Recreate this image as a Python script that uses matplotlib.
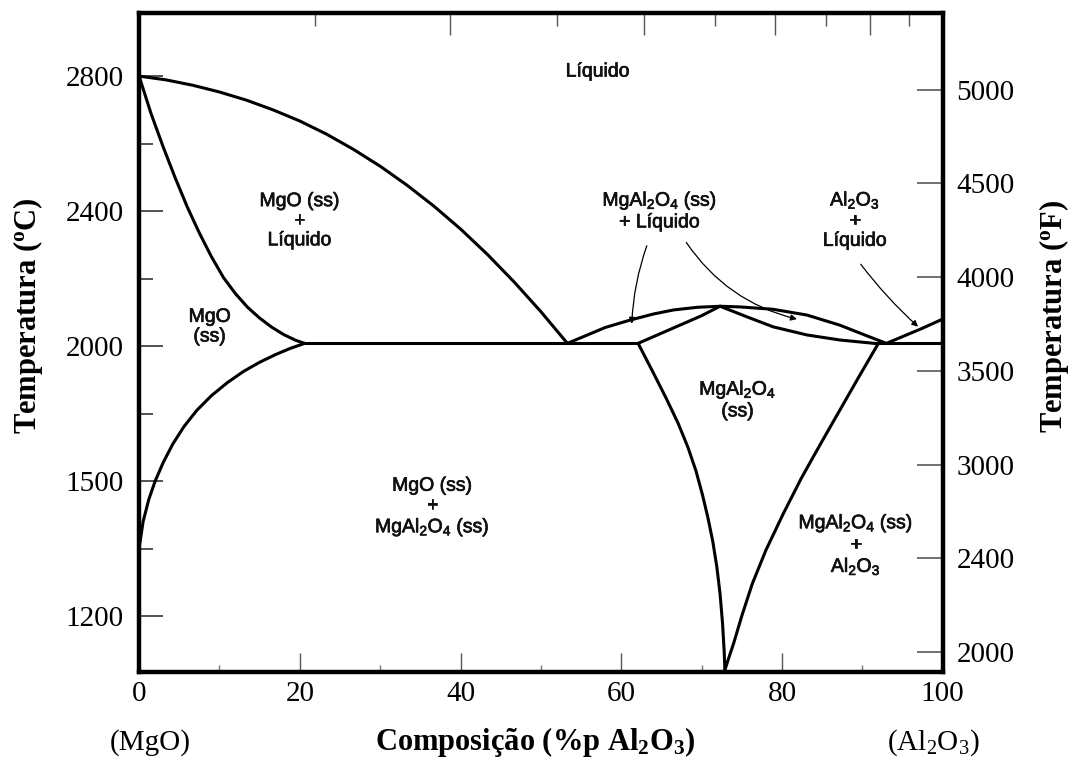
import numpy as np
import matplotlib
matplotlib.use("Agg")
import matplotlib.pyplot as plt
import matplotlib.patheffects as pe
from matplotlib.patches import FancyArrowPatch

plt.rcParams["font.family"] = ["Liberation Serif", "DejaVu Serif"]
plt.rcParams["mathtext.default"] = "regular"

# ---- phase boundaries: composition (wt% Al2O3) vs temperature (deg C) ----
# MgO liquidus
liq_mgo_x = [0.0, 3.33, 6.67, 10.0, 13.33, 16.67, 20.0, 23.33, 26.67, 30.0, 33.33, 36.67, 40.0, 43.33, 46.67, 50.0, 53.3]
liq_mgo_t = [2800, 2789, 2773, 2753, 2729, 2700, 2667, 2628, 2583, 2533, 2477, 2415, 2347, 2272, 2190, 2102, 2008]
# MgO solidus
sol_mgo_x = [0.0, 1.5, 3.0, 4.5, 6.0, 7.5, 9.0, 10.5, 12.0, 13.5, 15.0, 16.5, 18.0, 19.5, 20.6]
sol_mgo_t = [2800, 2688, 2590, 2498, 2412, 2335, 2265, 2203, 2155, 2115, 2083, 2056, 2034, 2017, 2008]
# MgO solvus
slv_mgo_x = [0.0, 0.5, 1.2, 2.0, 3.0, 4.2, 5.6, 7.2, 9.0, 11.0, 13.0, 15.0, 17.0, 18.8, 20.6]
slv_mgo_t = [1401, 1480, 1545, 1600, 1655, 1710, 1762, 1810, 1853, 1892, 1925, 1952, 1975, 1993, 2008]
# invariant (eutectic) lines
eut_left_x = [20.6, 62.1]
eut_right_x = [91.5, 100.0]
eut_t = [2008, 2008]
# MgAl2O4 liquidus (congruent maximum)
liq_sp_x = [53.3, 55.5, 58.0, 61.1, 64.0, 66.5, 69.5, 72.3, 74.8, 78.9, 83.1, 87.2, 90.5, 93.0]
liq_sp_t = [2008, 2030, 2055, 2077, 2095, 2107, 2115, 2118, 2116, 2109, 2092, 2062, 2031, 2008]
# MgAl2O4 solidus
sol_sp_x = [62.1, 64.7, 67.3, 70.0, 72.3, 75.6, 78.9, 83.1, 87.2, 91.5]
sol_sp_t = [2008, 2035, 2062, 2090, 2118, 2087, 2057, 2033, 2018, 2008]
# Al2O3 liquidus
liq_al_x = [93.0, 95.2, 97.4, 100.0]
liq_al_t = [2008, 2030, 2052, 2080]
# MgAl2O4 solvus, MgO-rich side
slv_sp_l_x = [62.1, 63.9, 65.6, 67.1, 68.3, 69.3, 70.1, 70.8, 71.4, 71.9, 72.3, 72.6, 72.8, 72.9]
slv_sp_l_t = [2008, 1925, 1845, 1770, 1700, 1630, 1560, 1490, 1420, 1345, 1265, 1180, 1100, 1040]
# MgAl2O4 solvus, Al2O3-rich side
slv_sp_r_x = [92.0, 89.6, 87.2, 84.8, 82.4, 80.1, 78.0, 76.3, 75.0, 74.0, 73.3, 72.9]
slv_sp_r_t = [2008, 1910, 1810, 1710, 1608, 1500, 1395, 1295, 1200, 1120, 1070, 1040]

# ---- axis ticks ----
x_ticks = [0, 20, 40, 60, 80, 100]
x_minor = [10, 30, 50, 70, 90]
c_ticks = [1200, 1600, 2000, 2400, 2800]
c_labels = ["1200", "1500", "2000", "2400", "2800"]
c_minor = [1400, 1800, 2200, 2600]
f_ticks = [2000, 2500, 3000, 3500, 4000, 4500, 5000]
f_labels = ["2000", "2400", "3000", "3500", "4000", "4500", "5000"]
mol_major = [20, 40, 60, 80]
mol_minor = [10, 30, 50, 70, 90]

M_AL2O3 = 101.96
M_MGO = 40.30


def wt_to_mol(w):
    w = np.asarray(w, dtype=float)
    a = w / M_AL2O3
    b = (100.0 - w) / M_MGO
    with np.errstate(divide="ignore", invalid="ignore"):
        return 100.0 * a / (a + b)


def mol_to_wt(m):
    m = np.asarray(m, dtype=float)
    a = m * M_AL2O3
    b = (100.0 - m) * M_MGO
    with np.errstate(divide="ignore", invalid="ignore"):
        return 100.0 * a / (a + b)


def c_to_f(c):
    return np.asarray(c, dtype=float) * 1.8 + 32.0


def f_to_c(f):
    return (np.asarray(f, dtype=float) - 32.0) / 1.8


fig = plt.figure(figsize=(10.7, 7.6), dpi=100)
ax = fig.add_axes([0.130, 0.1162, 0.751, 0.8671])
ax.set_xlim(0, 100)
ax.set_ylim(1035, 2988)

line_kw = dict(color="black", lw=2.2, solid_capstyle="round", solid_joinstyle="round")
for xs, ts in [
    (liq_mgo_x, liq_mgo_t),
    (sol_mgo_x, sol_mgo_t),
    (slv_mgo_x, slv_mgo_t),
    (eut_left_x, eut_t),
    (eut_right_x, eut_t),
    (liq_sp_x, liq_sp_t),
    (sol_sp_x, sol_sp_t),
    (liq_al_x, liq_al_t),
    (slv_sp_l_x, slv_sp_l_t),
    (slv_sp_r_x, slv_sp_r_t),
]:
    ax.plot(xs, ts, **line_kw)

# ---- spines and ticks ----
for s in ax.spines.values():
    s.set_linewidth(3.2)
    s.set_color("black")

ax.set_xticks(x_ticks)
ax.set_xticks(x_minor, minor=True)
ax.set_yticks(c_ticks, labels=c_labels)
ax.set_yticks(c_minor, minor=True)
ax.tick_params(axis="x", which="major", direction="in", length=14, width=1.0,
               color="#555555", labelsize=21, pad=7, top=False)
ax.tick_params(axis="x", which="minor", direction="in", length=5, width=1.0,
               color="#777777", top=False)
ax.tick_params(axis="y", which="major", direction="in", length=17, width=1.3,
               color="#444444", labelsize=21, pad=11, right=False)
ax.tick_params(axis="y", which="minor", direction="in", length=10, width=1.3,
               color="#444444", right=False)

top = ax.secondary_xaxis("top", functions=(wt_to_mol, mol_to_wt))
top.set_xticks(mol_major, labels=[""] * len(mol_major))
top.set_xticks(mol_minor, labels=[""] * len(mol_minor), minor=True)
top.tick_params(which="major", direction="in", length=16, width=1.0, color="#555555")
top.tick_params(which="minor", direction="in", length=9, width=1.0, color="#555555")
top.spines["top"].set_visible(False)

right = ax.secondary_yaxis("right", functions=(c_to_f, f_to_c))
right.set_yticks(f_ticks, labels=f_labels)
right.tick_params(direction="in", length=19, width=1.3, color="#666666",
                  labelsize=21, pad=10)
right.spines["right"].set_visible(False)

ax.set_ylabel("Temperatura ($^{o}$C)", fontsize=22, fontweight="bold")
ax.yaxis.set_label_coords(-0.138, 0.54)
ax.yaxis.label.set_va("center")
ax.text(1.138, 0.54, "Temperatura ($^{o}$F)", transform=ax.transAxes, rotation=90,
        ha="center", va="center", fontsize=22, fontweight="bold")

ax.set_xlabel("Composição (%p Al$_2$O$_3$)", fontsize=22, fontweight="bold")
ax.xaxis.set_label_coords(0.493, -0.107)
ax.xaxis.label.set_va("center")

xform = ax.get_xaxis_transform()
ax.text(1.4, -0.107, "(MgO)", transform=xform, ha="center", va="center", fontsize=21)
ax.text(98.8, -0.107, "(Al$_2$O$_3$)", transform=xform, ha="center", va="center", fontsize=21)

# ---- region labels ----
lab_kw = dict(ha="center", va="center", fontsize=14, family=["Liberation Sans", "DejaVu Sans"],
              color="#111111", linespacing=1.2,
              path_effects=[pe.withStroke(linewidth=0.5, foreground="#111111")])
ax.text(57.1, 2812, "Líquido", **lab_kw)
ax.text(20.0, 2370, "MgO (ss)\n+\nLíquido", **lab_kw)
ax.text(8.8, 2056, "MgO\n(ss)", **lab_kw)
ax.text(64.8, 2400, "MgAl$_2$O$_4$ (ss)\n+ Líquido", **lab_kw)
ax.text(89.1, 2373, "Al$_2$O$_3$\n+\nLíquido", **lab_kw)
ax.text(74.5, 1840, "MgAl$_2$O$_4$\n(ss)", **lab_kw)
ax.text(36.5, 1520, "MgO (ss)\n+\nMgAl$_2$O$_4$ (ss)", **lab_kw)
ax.text(89.2, 1410, "MgAl$_2$O$_4$ (ss)\n+\nAl$_2$O$_3$", **lab_kw)

arrow_kw = dict(arrowstyle="-|>", mutation_scale=9, lw=0.9, color="black")
ax.add_patch(FancyArrowPatch((63.3, 2305), (61.3, 2058),
                             connectionstyle="arc3,rad=0.08", **arrow_kw))
ax.add_patch(FancyArrowPatch((67.9, 2314), (82.2, 2078),
                             connectionstyle="arc3,rad=0.2", **arrow_kw))
ax.add_patch(FancyArrowPatch((89.6, 2249), (97.2, 2052),
                             connectionstyle="arc3,rad=0.05", **arrow_kw))

fig.savefig("out.png", dpi=100)
